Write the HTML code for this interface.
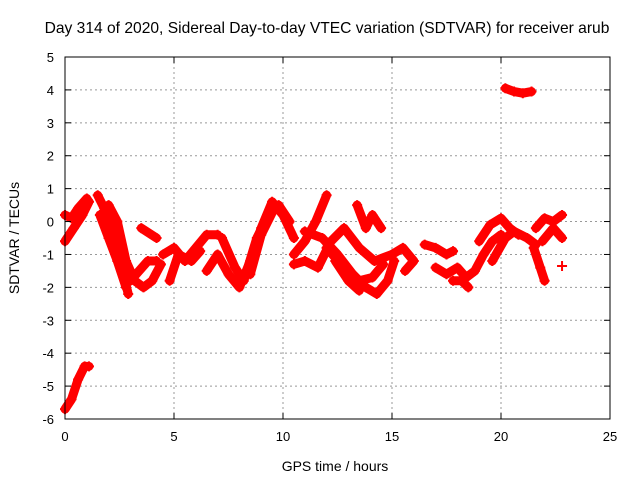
<!DOCTYPE html>
<html><head><meta charset="utf-8"><style>
body{margin:0;background:#fff}
svg{font-family:"Liberation Sans",sans-serif}
</style></head><body>
<svg id="c" width="640" height="480" viewBox="0 0 640 480" xmlns="http://www.w3.org/2000/svg">
<rect width="640" height="480" fill="#fff"/>
<text x="327" y="33" font-size="15.6" text-anchor="middle">Day 314 of 2020, Sidereal Day-to-day VTEC variation (SDTVAR) for receiver arub</text>
<g id="grid"></g><g id="marks"></g><g id="axes"></g>
<text x="335" y="471" font-size="14" text-anchor="middle">GPS time / hours</text>
<text x="0" y="0" font-size="14" text-anchor="middle" transform="translate(19,238) rotate(-90)">SDTVAR / TECUs</text>
</svg>
<script>
const xTicks=[0,5,10,15,20,25];
const yTicks=[5,4,3,2,1,0,-1,-2,-3,-4,-5,-6];
const traces=[
[[0,-5.7],[0.3,-5.4],[0.6,-4.8],[0.9,-4.4],[1.1,-4.4]],
[[20.2,4.05],[20.6,3.95],[21,3.9],[21.4,3.95]],
[[0,0.2],[0.3,0.1],[0.6,0.4],[1.0,0.7]],
[[0,-0.6],[0.4,-0.2],[0.8,0.2],[1.1,0.6]],
[[1.5,0.8],[1.8,0.4],[2.2,-0.4],[2.6,-1.4],[2.9,-2.2]],
[[1.6,0.2],[2.0,-0.5],[2.4,-1.2],[2.8,-2.0]],
[[2.0,0.5],[2.4,0],[2.8,-1.2],[3.2,-1.8],[3.6,-2.0],[4.0,-1.8],[4.4,-1.3]],
[[3.0,-1.8],[3.4,-1.5],[3.8,-1.2],[4.2,-1.2]],
[[3.5,-0.2],[4.2,-0.5]],
[[4.5,-1.0],[5.0,-0.8],[5.5,-1.2],[6.0,-0.8],[6.5,-0.4],[7.0,-0.4]],
[[4.8,-1.8],[5.2,-1.0],[5.8,-1.2],[6.2,-0.9]],
[[6.5,-1.5],[7.0,-1.0],[7.5,-1.6],[8.0,-2.0],[8.5,-1.2],[9.0,-0.2],[9.5,0.6],[10.0,0.2],[10.5,-0.5]],
[[7.2,-0.5],[7.8,-1.4],[8.2,-1.8],[8.8,-0.5],[9.4,0.3],[9.8,0.5],[10.3,0]],
[[8.5,-1.6],[9.0,-0.4],[9.6,0.4]],
[[10.5,-1.0],[11,-0.6],[11.5,0],[12,0.8]],
[[10.5,-1.3],[11,-1.2],[11.6,-1.4],[12.2,-0.6],[12.8,-0.2],[13.5,-0.8],[14.2,-1.2],[15,-1.0]],
[[11,-0.3],[11.8,-0.5],[12.5,-1.0],[13.2,-1.6],[13.8,-2.0],[14.3,-2.2],[14.8,-1.8],[15.1,-1.2]],
[[12,-0.8],[12.8,-1.4],[13.5,-1.8],[14.1,-1.7],[14.6,-1.3]],
[[12.4,-1.2],[13.0,-1.8],[13.5,-2.1]],
[[13.4,0.5],[13.8,-0.2],[14.1,0.2],[14.5,-0.2]],
[[15,-1.0],[15.5,-0.8],[16,-1.2],[15.6,-1.5]],
[[16.5,-0.7],[17.0,-0.8],[17.5,-1.0],[17.8,-0.9]],
[[17,-1.4],[17.5,-1.6],[18,-1.4],[18.4,-1.7],[18.8,-1.5],[19.2,-1.0],[19.6,-0.6],[20.0,-0.4]],
[[17.8,-1.8],[18.2,-1.8],[18.5,-2.0]],
[[19,-0.6],[19.5,-0.1],[20,0.1],[20.4,-0.2],[20.8,-0.4]],
[[19.6,-1.2],[20.2,-0.5],[20.6,-0.3],[21.2,-0.5],[21.6,-0.7]],
[[21.6,-0.2],[22,0.1],[22.4,0],[22.8,0.2]],
[[21.5,-0.8],[21.8,-1.4],[22.0,-1.8]],
[[21.9,-0.6],[22.4,-0.2],[22.8,-0.5]],
[[22.8,-1.35]]
];
const L=65,R=610,T=57,B=419;
const xs=v=>L+(v-0)/25*(R-L);
const ys=v=>B-(v+6)/11*(B-T);
const NS="http://www.w3.org/2000/svg";
function mk(t,a,p){const e=document.createElementNS(NS,t);for(const k in a)e.setAttribute(k,a[k]);p.appendChild(e);return e;}
const grid=document.getElementById('grid'),axes=document.getElementById('axes'),marks=document.getElementById('marks');
xTicks.forEach(t=>{const x=xs(t);
 if(t>0&&t<25){const g=mk('line',{x1:x,y1:T,x2:x,y2:B,stroke:'#999','stroke-dasharray':'2,3'},grid);}
 mk('line',{x1:x,y1:B,x2:x,y2:B-6,stroke:'#000'},axes);mk('line',{x1:x,y1:T,x2:x,y2:T+6,stroke:'#000'},axes);
 const tx=mk('text',{x:x,y:B+22,'font-size':13,'text-anchor':'middle'},axes);tx.textContent=t;
 });
yTicks.forEach(t=>{const y=ys(t);
 if(t>-6&&t<5){const g=mk('line',{x1:L,y1:y,x2:R,y2:y,stroke:'#999','stroke-dasharray':'2,3'},grid);}
 mk('line',{x1:L,y1:y,x2:L+6,y2:y,stroke:'#000'},axes);mk('line',{x1:R,y1:y,x2:R-6,y2:y,stroke:'#000'},axes);
 const tx=mk('text',{x:L-11,y:y+5,'font-size':13,'text-anchor':'end'},axes);tx.textContent=t;
 });
const fr=mk('rect',{x:L,y:T,width:R-L,height:B-T,fill:'none',stroke:'#000'},axes);

traces.forEach(tr=>{
 const g=mk('g',{},marks);
 
 
 if(tr.length>1)mk('polyline',{points:tr.map(p=>xs(p[0])+','+ys(p[1])).join(' '),fill:'none',stroke:'#f00','stroke-width':9,'stroke-linejoin':'round','stroke-linecap':'round'},g);
 tr.forEach(p=>{const x=xs(p[0]),y=ys(p[1]);
  mk('path',{d:`M${x-5},${y}H${x+5}M${x},${y-5}V${y+5}`,stroke:'#f00','stroke-width':2},g);});
});
</script>
</body></html>
